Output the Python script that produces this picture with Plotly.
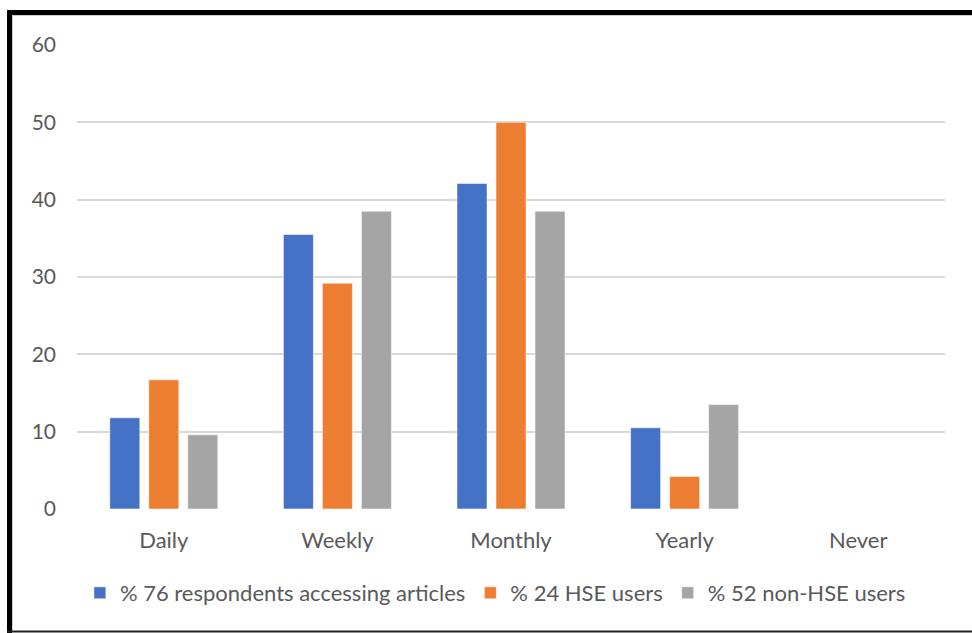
import plotly.graph_objects as go

# Access frequency categories and share of each group (%)
categories = ["Daily", "Weekly", "Monthly", "Yearly", "Never"]
series_names = [
    "% 76 respondents accessing articles",
    "% 24 HSE users",
    "% 52 non-HSE users",
]
all_respondents = [11.8, 35.5, 42.1, 10.5, 0]
hse_users = [16.7, 29.2, 50.0, 4.2, 0]
non_hse_users = [9.6, 38.5, 38.5, 13.5, 0]
y_ticks = [0, 10, 20, 30, 40, 50, 60]

colors = ["#4472C4", "#ED7D31", "#A5A5A5"]
text_color = "#595959"
font_family = "Lato, Calibri, Carlito, sans-serif"

fig = go.Figure()
for name, values, color in zip(series_names,
                               [all_respondents, hse_users, non_hse_users],
                               colors):
    fig.add_trace(go.Bar(
        x=categories, y=values, name=name,
        marker=dict(color=color, line=dict(color="rgba(255,255,255,0.55)", width=1)),
    ))

# Plot-area geometry in pixels, used to place the outer frame
W, H = 972, 633
ml, mr, mt, mb = 77, 27, 45, 124
pw, ph = W - ml - mr, H - mt - mb

def px_x(x):
    return (x - ml) / pw

def px_y(y):
    return (H - mb - y) / ph

frame = [
    # thick black frame on left and top, thin one along the bottom
    dict(type="line", xref="paper", yref="paper",
         x0=px_x(9.5), x1=px_x(9.5), y0=px_y(10), y1=px_y(633),
         line=dict(color="black", width=5)),
    dict(type="line", xref="paper", yref="paper",
         x0=px_x(7), x1=px_x(975), y0=px_y(12.5), y1=px_y(12.5),
         line=dict(color="black", width=5)),
    dict(type="line", xref="paper", yref="paper",
         x0=px_x(7), x1=px_x(975), y0=px_y(631.5), y1=px_y(631.5),
         line=dict(color="#222222", width=2)),
    # faint inner edge
    dict(type="line", xref="paper", yref="paper",
         x0=px_x(12.5), x1=px_x(12.5), y0=px_y(15), y1=px_y(630),
         line=dict(color="#d0d0d0", width=1)),
    dict(type="line", xref="paper", yref="paper",
         x0=px_x(12), x1=px_x(975), y0=px_y(15.5), y1=px_y(15.5),
         line=dict(color="#d0d0d0", width=1)),
]

fig.update_layout(
    width=W, height=H,
    margin=dict(l=ml, r=mr, t=mt, b=mb),
    paper_bgcolor="white", plot_bgcolor="white",
    font=dict(family=font_family, size=22, color=text_color),
    barmode="group", bargap=0.326, bargroupgap=0.23,
    showlegend=True,
    legend=dict(orientation="h", x=0.482, xanchor="center", y=px_y(593), yanchor="middle",
                font=dict(size=22, color=text_color), itemwidth=30,
                bgcolor="rgba(0,0,0,0)"),
    shapes=frame,
)
fig.update_xaxes(showgrid=False, showline=False, zeroline=False, ticks="",
                 tickfont=dict(size=22, color=text_color), ticklabelstandoff=16)
fig.update_yaxes(range=[0, 60], tickvals=y_ticks, showgrid=True, gridcolor="#d9d9d9",
                 gridwidth=2, zeroline=False, showline=False, ticks="",
                 tickfont=dict(size=21, color=text_color), ticklabelstandoff=20)

fig.write_html("out.html")
